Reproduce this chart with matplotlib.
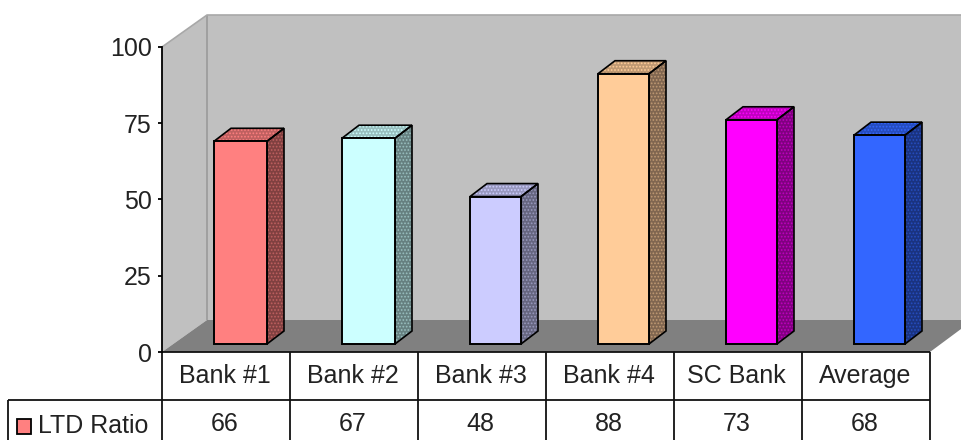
import matplotlib
matplotlib.use('Agg')
import matplotlib.pyplot as plt
from matplotlib.patches import Polygon

plt.rcParams['font.family'] = ['Liberation Sans', 'DejaVu Sans']
plt.rcParams['hatch.linewidth'] = 0.8

categories = ['Bank #1', 'Bank #2', 'Bank #3', 'Bank #4', 'SC Bank', 'Average']
ltd_ratio = [66, 67, 48, 88, 73, 68]
bar_colors = ['#FF8080', '#CCFFFF', '#CCCCFF', '#FFCC99', '#FF00FF', '#3366FF']
top_colors = ['#BF6060', '#99BFBF', '#9999BF', '#BF9973', '#BF00BF', '#264DBF']
side_colors = ['#804040', '#668080', '#666680', '#806650', '#800080', '#1A3380']
y_ticks = [0, 25, 50, 75, 100]
series_name = 'LTD Ratio'

# axes box is the front plane of the old Excel 3D chart
fig = plt.figure(figsize=(9.61, 4.4), dpi=100)
ax = fig.add_axes([162 / 961, 88 / 440, 768 / 961, 305 / 440])
ax.set_xlim(0, 6)
ax.set_ylim(0, 100)
ax.patch.set_visible(False)

px = 6 / 768
py = 100 / 305


def poly(points, **kw):
    p = Polygon(points, clip_on=False, **kw)
    ax.add_patch(p)


def line(xs, ys, **kw):
    ax.plot(xs, ys, clip_on=False, solid_capstyle='butt', **kw)


# walls and floor
dx, dy = 45 * px, 32 * py
right = 6 + 31 * px
wall = '#C0C0C0'
poly([(0, 0), (dx, dy), (dx, 100 + dy), (0, 100)], fc=wall, ec='none', zorder=1)
poly([(dx, dy), (right, dy), (right, 100 + dy), (dx, 100 + dy)], fc=wall, ec='none', zorder=1)
poly([(0, 0), (dx, dy), (right, dy), (right, 23 * py), (6, 0)], fc='#808080', ec='none', zorder=2)
line([dx, dx], [dy, 100 + dy], color='#A0A0A0', lw=1.4, zorder=2)
line([0, dx, right], [100, 100 + dy, 100 + dy], color='#A8A8A8', lw=1.2, zorder=2)

# bars
base = 8 * py
depth_x, depth_y = 17 * px, 13 * py
offsets = [52, 180, 308, 436, 564, 692]
widths = [53, 53, 51, 51, 51, 51]
for i, v in enumerate(ltd_ratio):
    x0 = offsets[i] * px
    x1 = x0 + widths[i] * px
    top = base + v * 1.007
    front = [(x0, base), (x1, base), (x1, top), (x0, top)]
    side = [(x1, base), (x1 + depth_x, base + depth_y), (x1 + depth_x, top + depth_y), (x1, top)]
    cap = [(x0, top), (x1, top), (x1 + depth_x, top + depth_y), (x0 + depth_x, top + depth_y)]
    poly(side, fc=side_colors[i], ec=top_colors[i], hatch='.....', lw=0, zorder=3)
    poly(side, fc='none', ec='black', lw=1.2, zorder=4)
    poly(cap, fc=top_colors[i], ec=bar_colors[i], hatch='.....', lw=0, zorder=3)
    poly(cap, fc='none', ec='black', lw=1.2, zorder=4)
    poly(front, fc=bar_colors[i], ec='black', lw=1.4, zorder=5)

# value axis
for s in ['top', 'right', 'bottom']:
    ax.spines[s].set_visible(False)
ax.spines['left'].set_linewidth(1.3)
ax.spines['left'].set_zorder(6)
ax.set_xticks([])
ax.set_yticks(y_ticks)
ax.tick_params(axis='y', length=3, width=1.3, pad=4.5, labelsize=18, labelcolor='#222222')

# data table under the chart
row1 = -48 * py
row2 = -100 * py
left = -154 * px
lk = dict(color='#111111', lw=1.3, zorder=6)
line([0, 6], [0, 0], **lk)
line([left, 6], [row1, row1], **lk)
line([left, left], [row1, row2], **lk)
for i in range(7):
    line([i, i], [0, row2], **lk)
for i, (c, v) in enumerate(zip(categories, ltd_ratio)):
    ax.text(i + 0.49, -24 * py, c, ha='center', va='center', fontsize=18, color='#222222', clip_on=False)
    ax.text(i + 0.49, -72 * py, str(v), ha='center', va='center', fontsize=18, color='#222222', clip_on=False)
poly([(-145 * px, -67 * py), (-131 * px, -67 * py), (-131 * px, -82 * py), (-145 * px, -82 * py)],
     fc=bar_colors[0], ec='black', lw=1.3, zorder=6)
ax.text(-124 * px, -74 * py, series_name, ha='left', va='center', fontsize=18, color='#222222', clip_on=False)

fig.savefig('out.png', dpi=100)
